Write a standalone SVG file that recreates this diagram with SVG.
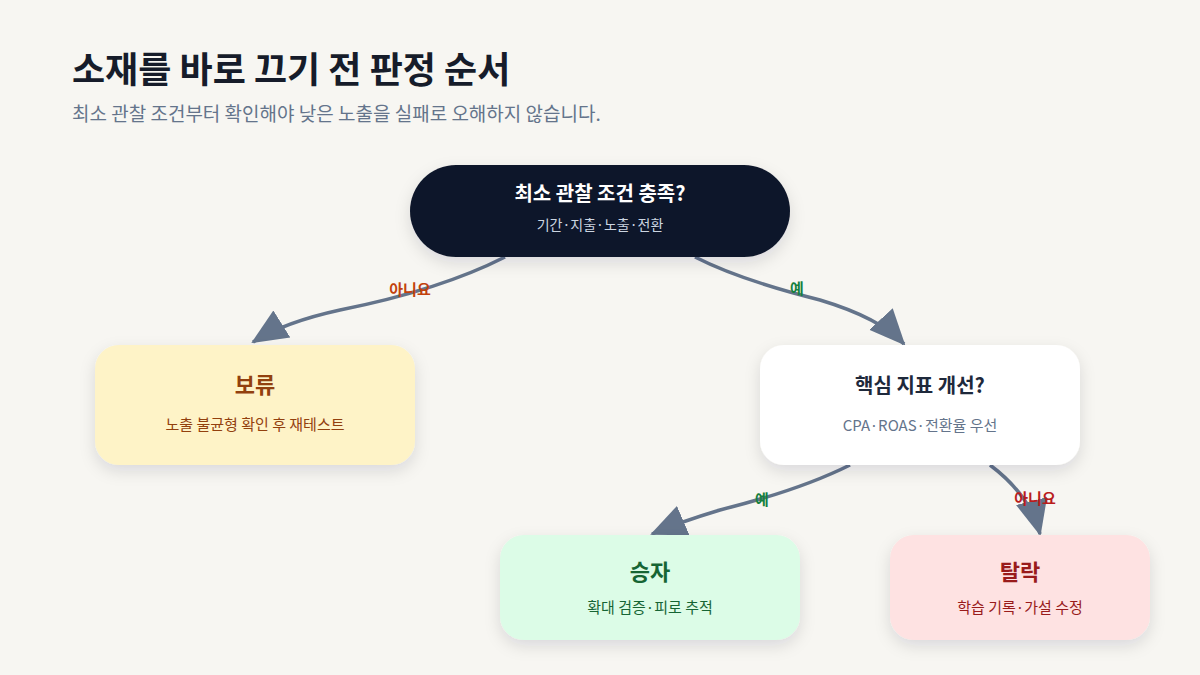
<svg xmlns="http://www.w3.org/2000/svg" width="1200" height="675" viewBox="0 0 1200 675">
<defs>
<marker id="ah" markerUnits="userSpaceOnUse" markerWidth="40" markerHeight="36" refX="34" refY="18" orient="auto"><path d="M0,2 L36,18 L0,34 Z" fill="#64748b"/></marker>
<filter id="sh" x="-20%" y="-20%" width="140%" height="160%"><feDropShadow dx="0" dy="6" stdDeviation="8" flood-color="#0f172a" flood-opacity="0.12"/></filter>
</defs>
<style>
text{font-family:"Noto Sans CJK KR","Noto Sans",sans-serif}
.t{font-weight:700;text-anchor:middle}
.s{text-anchor:middle;font-size:15px}
.c{fill:none;stroke:#64748b;stroke-width:3.5;marker-end:url(#ah)}
.l{font-size:15px;font-weight:700;text-anchor:middle}
</style>
<rect width="1200" height="675" fill="#f7f6f2"/>
<text x="72" y="83" font-size="36" font-weight="700" fill="#161c2a">소재를 바로 끄기 전 판정 순서</text>
<text x="72" y="121" font-size="19" fill="#64748b">최소 관찰 조건부터 확인해야 낮은 노출을 실패로 오해하지 않습니다.</text>
<g id="connectors">
<path class="c" d="M505,257 Q440,290 340,310 Q285,322 253,342"/>
<path class="c" d="M695,257 Q740,280 820,300 Q880,318 904,344"/>
<path class="c" d="M850,465 Q800,490 720,510 Q680,522 652,534"/>
<path class="c" d="M990,465 Q1030,495 1040,534"/>
<text class="l" x="410" y="295" fill="#c2410c">아니요</text>
<text class="l" x="797" y="294" fill="#15803d">예</text>
<text class="l" x="762" y="505" fill="#15803d">예</text>
<text class="l" x="1035" y="504" fill="#b91c1c">아니요</text>
</g>
<g id="n-check">
<rect x="410" y="165" width="380" height="92" rx="46" fill="#0f172a" filter="url(#sh)"/>
<text class="t" x="600" y="201" font-size="20" fill="#ffffff">최소 관찰 조건 충족?</text>
<text class="s" x="600" y="230" font-size="14" fill="#cbd5e1" style="font-size:14px">기간·지출·노출·전환</text>
</g>
<g id="n-hold">
<rect x="95" y="345" width="320" height="120" rx="24" fill="#fef3c7" filter="url(#sh)"/>
<text class="t" x="255" y="393" font-size="22" fill="#92400e">보류</text>
<text class="s" x="255" y="430" fill="#92400e">노출 불균형 확인 후 재테스트</text>
</g>
<g id="n-kpi">
<rect x="760" y="345" width="320" height="120" rx="24" fill="#ffffff" filter="url(#sh)"/>
<text class="t" x="920" y="393" font-size="20" fill="#1e293b">핵심 지표 개선?</text>
<text class="s" x="920" y="431" fill="#64748b">CPA·ROAS·전환율 우선</text>
</g>
<g id="n-win">
<rect x="500" y="535" width="300" height="105" rx="24" fill="#dcfce7" filter="url(#sh)"/>
<text class="t" x="650" y="580" font-size="22" fill="#166534">승자</text>
<text class="s" x="650" y="613" fill="#166534">확대 검증·피로 추적</text>
</g>
<g id="n-drop">
<rect x="890" y="535" width="260" height="105" rx="24" fill="#fee2e2" filter="url(#sh)"/>
<text class="t" x="1020" y="580" font-size="22" fill="#991b1b">탈락</text>
<text class="s" x="1020" y="613" fill="#991b1b">학습 기록·가설 수정</text>
</g>
</svg>
